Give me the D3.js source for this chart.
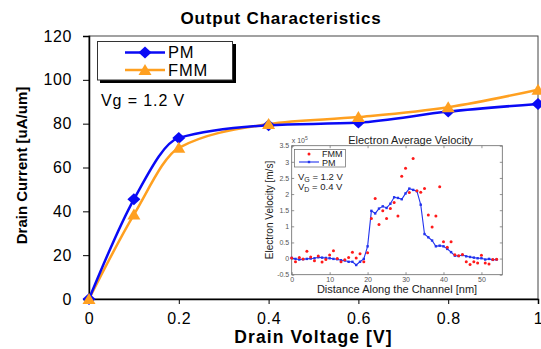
<!DOCTYPE html>
<html>
<head>
<meta charset="utf-8">
<script src="https://cdn.jsdelivr.net/npm/d3@7"></script>
<style>
  body { margin: 0; background: #fff; }
  svg { display: block; }
  text { font-family: "Liberation Sans", Arial, sans-serif; }
</style>
</head>
<body>
<svg id="chart" width="541" height="349"></svg>
<script>
// main chart: output characteristics
const drainVoltage = [0, 0.1, 0.2, 0.4, 0.6, 0.8, 1.0];
const currentPM = [0, 45.5, 73.5, 79.3, 80.5, 85.5, 89];
const currentFMM = [0, 38.5, 69, 79.8, 83, 87.5, 95.5];
const xTicks = [0, 0.2, 0.4, 0.6, 0.8, 1];
const yTicks = [0, 20, 40, 60, 80, 100, 120];

// inset: electron average velocity (x 10^5 m/s)
const position = d3.range(0, 55);
const velocityPM = [0.02, -0.01, -0.03, -0.02, -0.01, 0, 0.01, 0.04, 0.03, 0.02,
  0.01, -0.01, -0.02, -0.05, -0.06, -0.1, -0.1, -0.2, -0.1, -0.01,
  0.38, 1.48, 1.4, 1.55, 1.62, 1.57, 1.7, 1.9, 1.88, 1.84,
  2.02, 2.17, 2.13, 2.09, 1.67, 0.76, 0.66, 0.56, 0.38, 0.4,
  0.38, 0.3, 0.2, 0.09, 0.08, 0.11, 0.07, 0.05, 0.03, 0.01,
  0.01, -0.03, -0.01, -0.04, -0.03];
const velocityFMM = [0.02, -0.1, 0.03, -0.01, 0.23, 0.05, -0.07, 0.08, -0.11, -0.03,
  0.11, 0.24, 0.0, -0.1, -0.04, 0.03, 0.2, 0.02, 0.15, -0.1,
  0.18, 1.24, 1.86, 1.06, 1.48, 1.24, 1.55, 1.74, 1.32, 2.55,
  2.8, 2.05, 3.1, 2.1, 2.06, 2.17, 1.35, 0.98, 1.32, 2.23,
  0.52, 0.35, 0.52, 0.12, 0.09, 0.13, -0.1, -0.18, -0.1, -0.14,
  0.1, -0.14, -0.17, -0.03, -0.02];
const insetXTicks = [0, 10, 20, 30, 40, 50];
const insetYTicks = [-0.5, 0, 0.5, 1, 1.5, 2, 2.5, 3, 3.5];

const blue = "#0a0af5";
const orange = "#ffa020";

const svg = d3.select("#chart");

const x = d3.scaleLinear().domain([0, 1]).range([89, 538]);
const y = d3.scaleLinear().domain([0, 120]).range([299, 36]);

// plot frame
svg.append("rect")
  .attr("x", x(0)).attr("y", y(120))
  .attr("width", x(1) - x(0)).attr("height", y(0) - y(120))
  .attr("fill", "#fff").attr("stroke", "#444").attr("stroke-width", 1);

// title
svg.append("text")
  .attr("x", 281).attr("y", 24)
  .attr("text-anchor", "middle")
  .attr("font-size", 17).attr("font-weight", "bold").attr("letter-spacing", 0.8)
  .text("Output Characteristics");

// x axis
const xAxis = svg.append("g").attr("transform", `translate(0,${y(0)})`);
xAxis.call(d3.axisBottom(x).tickValues(d3.range(0, 1.001, 0.04)).tickSize(3).tickFormat(""));
xAxis.call(d3.axisBottom(x).tickValues(xTicks).tickSize(5).tickFormat(d => String(d)));
xAxis.selectAll("path.domain").attr("stroke-width", 1.5);
xAxis.selectAll("text").attr("font-size", 16).attr("fill", "#000").attr("dy", "1.05em")
  .attr("letter-spacing", 0.6)
  .attr("font-family", "Liberation Sans, Arial, sans-serif");

// y axis
const yAxis = svg.append("g").attr("transform", `translate(${x(0)},0)`);
yAxis.call(d3.axisLeft(y).tickValues(d3.range(0, 121, 4)).tickSize(4).tickFormat(""));
yAxis.call(d3.axisLeft(y).tickValues(yTicks).tickSize(6).tickPadding(11).tickFormat(d => String(d)));
yAxis.selectAll("path.domain").attr("stroke-width", 1.5);
yAxis.selectAll("text").attr("font-size", 16).attr("fill", "#000").attr("letter-spacing", 0.6)
  .attr("font-family", "Liberation Sans, Arial, sans-serif");

// axis titles
svg.append("text")
  .attr("x", (x(0) + x(1)) / 2).attr("y", 343)
  .attr("text-anchor", "middle")
  .attr("font-size", 17.5).attr("font-weight", "bold").attr("letter-spacing", 1.1)
  .text("Drain Voltage [V]");
svg.append("text")
  .attr("transform", `translate(27,${(y(0) + y(120)) / 2 - 2}) rotate(-90)`)
  .attr("text-anchor", "middle")
  .attr("font-size", 15).attr("font-weight", "bold")
  .text("Drain Current [uA/um]");

// curves
const line = d3.line()
  .x(d => x(d[0]))
  .y(d => y(d[1]))
  .curve(d3.curveMonotoneX);

const pmPts = drainVoltage.map((v, i) => [v, currentPM[i]]);
const fmmPts = drainVoltage.map((v, i) => [v, currentFMM[i]]);

const plot = svg.append("g");
plot.append("path").datum(fmmPts).attr("d", line)
  .attr("fill", "none").attr("stroke", orange).attr("stroke-width", 2.5);
plot.append("path").datum(pmPts).attr("d", line)
  .attr("fill", "none").attr("stroke", blue).attr("stroke-width", 2.5);

const diamond = "M0,-6L6.5,0L0,6L-6.5,0Z";
const triangle = "M0,-6L6.5,5L-6.5,5Z";

plot.selectAll(".pm").data(pmPts).join("path")
  .attr("transform", d => `translate(${x(d[0])},${y(d[1])})`)
  .attr("d", diamond).attr("fill", blue);
plot.selectAll(".fmm").data(fmmPts).join("path")
  .attr("transform", d => `translate(${x(d[0])},${y(d[1])})`)
  .attr("d", triangle).attr("fill", orange);

// legend
const lg = svg.append("g");
lg.append("rect").attr("x", 100).attr("y", 44).attr("width", 136).attr("height", 39).attr("fill", "#000");
lg.append("rect").attr("x", 97.5).attr("y", 41.5).attr("width", 135).attr("height", 38.5)
  .attr("fill", "#fff").attr("stroke", "#333").attr("stroke-width", 1);
const legendItems = [
  { name: "PM", color: blue, shape: diamond, yy: 52.5 },
  { name: "FMM", color: orange, shape: triangle, yy: 70 }
];
legendItems.forEach(it => {
  lg.append("line").attr("x1", 125).attr("x2", 165).attr("y1", it.yy).attr("y2", it.yy)
    .attr("stroke", it.color).attr("stroke-width", 2.5);
  lg.append("path").attr("transform", `translate(145,${it.yy})`).attr("d", it.shape).attr("fill", it.color);
  lg.append("text").attr("x", 168).attr("y", it.yy + 5.5).attr("font-size", 16.5)
    .attr("letter-spacing", 0.8).text(it.name);
});

svg.append("text").attr("x", 101).attr("y", 106).attr("font-size", 16)
  .attr("letter-spacing", 0.9).text("Vg = 1.2 V");

// ---------- inset ----------
const ix = d3.scaleLinear().domain([0, 55.5]).range([291.7, 502.3]);
const iy = d3.scaleLinear().domain([-0.5, 3.5]).range([274.7, 145.7]);
const grey = "#555";

const inset = svg.append("g");
inset.append("rect")
  .attr("x", ix(0)).attr("y", iy(3.5))
  .attr("width", ix(55.5) - ix(0)).attr("height", iy(-0.5) - iy(3.5))
  .attr("fill", "#fff").attr("stroke", "#666").attr("stroke-width", 0.8);

const ixAxis = inset.append("g").attr("transform", `translate(0,${iy(-0.5)})`)
  .call(d3.axisBottom(ix).tickValues(insetXTicks).tickSize(-2.5).tickPadding(2).tickFormat(d => String(d)));
const ixTop = inset.append("g").attr("transform", `translate(0,${iy(3.5)})`)
  .call(d3.axisTop(ix).tickValues(insetXTicks).tickSize(-2.5).tickFormat(""));
const iyAxis = inset.append("g").attr("transform", `translate(${ix(0)},0)`)
  .call(d3.axisLeft(iy).tickValues(insetYTicks).tickSize(-2.5).tickPadding(2.5).tickFormat(d => String(d)));
const iyRight = inset.append("g").attr("transform", `translate(${ix(55.5)},0)`)
  .call(d3.axisRight(iy).tickValues(insetYTicks).tickSize(-2.5).tickFormat(""));
[ixAxis, ixTop, iyAxis, iyRight].forEach(g => {
  g.select("path.domain").remove();
  g.selectAll("line").attr("stroke", "#666").attr("stroke-width", 0.7);
  g.selectAll("text").attr("font-size", 7).attr("fill", grey)
    .attr("font-family", "Liberation Sans, Arial, sans-serif");
});

// exponent
const ex = inset.append("text").attr("x", ix(0)).attr("y", 143).attr("font-size", 7).attr("fill", grey);
ex.append("tspan").text("x 10");
ex.append("tspan").attr("dy", -3).attr("font-size", 5).text("5");

inset.append("text").attr("x", 410.5).attr("y", 143.5).attr("text-anchor", "middle")
  .attr("font-size", 11).attr("fill", "#222").text("Electron Average Velocity");
inset.append("text").attr("x", 397).attr("y", 292.5).attr("text-anchor", "middle")
  .attr("font-size", 11).attr("fill", "#222").text("Distance Along the Channel [nm]");
inset.append("text").attr("transform", "translate(273,210) rotate(-90)").attr("text-anchor", "middle")
  .attr("font-size", 10).attr("fill", "#222").text("Electron Velocity [m/s]");

// PM line with small markers
const iline = d3.line().x((d, i) => ix(position[i])).y(d => iy(d));
inset.append("path").datum(velocityPM).attr("d", iline)
  .attr("fill", "none").attr("stroke", "#2233ee").attr("stroke-width", 1.1);
inset.selectAll(".ipm").data(velocityPM).join("rect")
  .attr("x", (d, i) => ix(position[i]) - 1.2).attr("y", d => iy(d) - 1.2)
  .attr("width", 2.4).attr("height", 2.4).attr("fill", "#2233ee");

// FMM dots
inset.selectAll(".ifmm").data(velocityFMM).join("circle")
  .attr("cx", (d, i) => ix(position[i])).attr("cy", d => iy(d))
  .attr("r", 1.5).attr("fill", "#ff1a1a");

// inset legend
inset.append("rect").attr("x", 294.5).attr("y", 149.5).attr("width", 51).attr("height", 17.5)
  .attr("fill", "#fff").attr("stroke", "#666").attr("stroke-width", 0.7);
inset.append("circle").attr("cx", 309).attr("cy", 154).attr("r", 1.5).attr("fill", "#ff1a1a");
inset.append("text").attr("x", 322).attr("y", 157).attr("font-size", 9).attr("fill", "#222").text("FMM");
inset.append("line").attr("x1", 299).attr("x2", 319).attr("y1", 162).attr("y2", 162)
  .attr("stroke", "#2233ee").attr("stroke-width", 1.1);
inset.append("rect").attr("x", 307.8).attr("y", 160.8).attr("width", 2.4).attr("height", 2.4).attr("fill", "#2233ee");
inset.append("text").attr("x", 322).attr("y", 165.5).attr("font-size", 9).attr("fill", "#222").text("PM");

// bias annotations
const vg = inset.append("text").attr("x", 298).attr("y", 180).attr("font-size", 9.5).attr("fill", "#222");
vg.append("tspan").text("V");
vg.append("tspan").attr("dy", 2).attr("font-size", 7).text("G");
vg.append("tspan").attr("dy", -2).text(" = 1.2 V");
const vdT = inset.append("text").attr("x", 298).attr("y", 190).attr("font-size", 9.5).attr("fill", "#222");
vdT.append("tspan").text("V");
vdT.append("tspan").attr("dy", 2).attr("font-size", 7).text("D");
vdT.append("tspan").attr("dy", -2).text(" = 0.4 V");
</script>
</body>
</html>
